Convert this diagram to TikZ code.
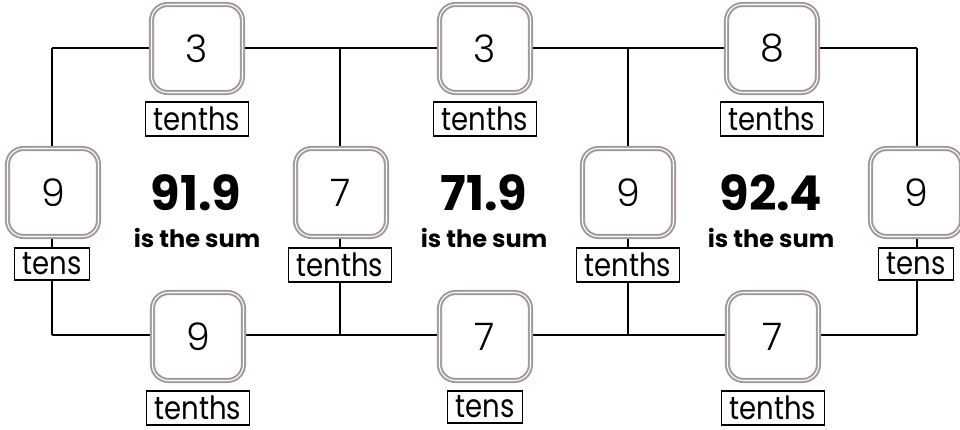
\documentclass[tikz,border=0pt]{standalone}
\usepackage{fontspec}
\usepackage{graphicx}
\setmainfont{Poppins}
\newfontfamily\numfont{Poppins Light}
\definecolor{taupe}{HTML}{A39998}
\newcommand{\lbltxt}[1]{\scalebox{0.86}[1]{#1}}
\begin{document}
\begin{tikzpicture}[x=1pt,y=-1pt,
 numbox/.style={draw=taupe, double=white, line width=2pt, double distance=1.1pt, rounded corners=16pt, fill=white, minimum width=91pt, minimum height=88pt, font=\numfont\fontsize{38}{38}\selectfont, inner sep=0pt},
 unitlbl/.style={draw=black, line width=1.6pt, fill=white, font=\fontsize{32}{32}\selectfont, inner xsep=8pt, inner ysep=5pt, anchor=north},
 wire/.style={line width=2.4pt, black},
 sumnum/.style={font=\bfseries\fontsize{48}{48}\selectfont, inner sep=0pt},
 sumtxt/.style={font=\bfseries\fontsize{24}{24}\selectfont, inner sep=0pt}]
\useasboundingbox (0,0) rectangle (960,429);
\coordinate (t1) at (52,48);
\coordinate (t2) at (340,48);
\coordinate (t3) at (628,48);
\coordinate (t4) at (917,48);
\coordinate (b1) at (52,335);
\coordinate (b2) at (340,335);
\coordinate (b3) at (628,335);
\coordinate (b4) at (917,335);
\draw[wire] (t1) -- (t2) -- (t3) -- (t4);
\draw[wire] (b1) -- (b2) -- (b3) -- (b4);
\draw[wire] (t1) -- (b1);
\draw[wire] (t2) -- (b2);
\draw[wire] (t3) -- (b3);
\draw[wire] (t4) -- (b4);
% top boxes
\node[numbox] (n1) at (197,48.5) {3};
\node[numbox] (n2) at (485,48.5) {3};
\node[numbox] (n3) at (772,48.5) {8};
% side boxes
\node[numbox] (s1) at (53,192.5) {9};
\node[numbox] (s2) at (341,192.5) {7};
\node[numbox] (s3) at (628,192.5) {9};
\node[numbox] (s4) at (916,192.5) {9};
% bottom boxes
\node[numbox] (m1) at (198,336.5) {9};
\node[numbox] (m2) at (485,336.5) {7};
\node[numbox] (m3) at (773,336.5) {7};
% labels
\node[unitlbl] (ln1) at (197,101) {\lbltxt{tenths}};
\node[unitlbl] (ln2) at (485,101) {\lbltxt{tenths}};
\node[unitlbl] (ln3) at (772,101) {\lbltxt{tenths}};
\node[unitlbl] (ls1) at (52,247) {\lbltxt{tens}};
\node[unitlbl] (ls2) at (340,247) {\lbltxt{tenths}};
\node[unitlbl] (ls3) at (628,247) {\lbltxt{tenths}};
\node[unitlbl] (ls4) at (916,247) {\lbltxt{tens}};
\node[unitlbl] (lm1) at (198,390) {\lbltxt{tenths}};
\node[unitlbl] (lm2) at (485,390) {\lbltxt{tens}};
\node[unitlbl] (lm3) at (773,390) {\lbltxt{tenths}};
% sums
\node[sumnum] (sum1) at (196,193) {91.9};
\node[sumtxt] (st1) at (197,238) {is the sum};
\node[sumnum] (sum2) at (484,193) {71.9};
\node[sumtxt] (st2) at (484,238) {is the sum};
\node[sumnum] (sum3) at (771,193) {92.4};
\node[sumtxt] (st3) at (771,238) {is the sum};
\end{tikzpicture}
\end{document}
